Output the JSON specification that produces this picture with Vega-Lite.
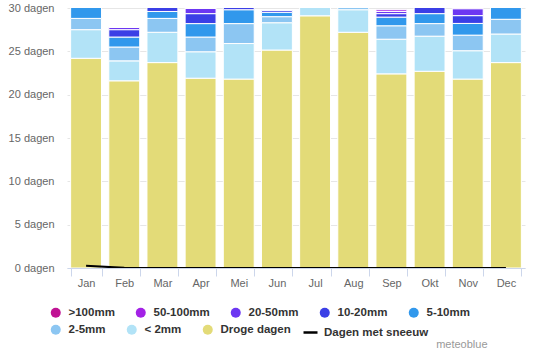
{
  "$schema": "https://vega.github.io/schema/vega-lite/v6.json",
  "width": 458,
  "height": 260,
  "autosize": {"type": "none"},
  "padding": {"left": 67, "top": 8, "right": 10, "bottom": 88},
  "background": "white",
  "config": {
    "view": {"stroke": null},
    "font": "Liberation Sans",
    "axisX": {
      "titleColor": "#999999",
      "titleFont": "Liberation Sans",
      "titleFontSize": 11,
      "titleFontWeight": "normal",
      "titleAlign": "right",
      "titleBaseline": "alphabetic",
      "titleX": 420,
      "titleY": 79
    },
    "legend": {
      "orient": "none",
      "direction": "horizontal",
      "gridAlign": "none",
      "padding": 0,
      "labelFont": "Liberation Sans",
      "labelFontSize": 11.5,
      "labelFontWeight": "bold",
      "labelColor": "#333333",
      "labelOffset": 7,
      "columnPadding": 20,
      "symbolType": "circle",
      "symbolSize": 100,
      "symbolStrokeWidth": 0,
      "title": null
    }
  },
  "datasets": {
    "precip": [
      {"month": "Jan", "cat": "Droge dagen", "rank": 1, "days": 24.2},
      {"month": "Jan", "cat": "< 2mm", "rank": 2, "days": 3.3},
      {"month": "Jan", "cat": "2-5mm", "rank": 3, "days": 1.3},
      {"month": "Jan", "cat": "5-10mm", "rank": 4, "days": 1.7},
      {"month": "Jan", "cat": "10-20mm", "rank": 5, "days": 0.4},
      {"month": "Jan", "cat": "20-50mm", "rank": 6, "days": 0.1},
      {"month": "Feb", "cat": "Droge dagen", "rank": 1, "days": 21.6},
      {"month": "Feb", "cat": "< 2mm", "rank": 2, "days": 2.3},
      {"month": "Feb", "cat": "2-5mm", "rank": 3, "days": 1.6},
      {"month": "Feb", "cat": "5-10mm", "rank": 4, "days": 1.15},
      {"month": "Feb", "cat": "10-20mm", "rank": 5, "days": 0.85},
      {"month": "Feb", "cat": "20-50mm", "rank": 6, "days": 0.25},
      {"month": "Mar", "cat": "Droge dagen", "rank": 1, "days": 23.7},
      {"month": "Mar", "cat": "< 2mm", "rank": 2, "days": 3.5},
      {"month": "Mar", "cat": "2-5mm", "rank": 3, "days": 1.6},
      {"month": "Mar", "cat": "5-10mm", "rank": 4, "days": 0.8},
      {"month": "Mar", "cat": "10-20mm", "rank": 5, "days": 0.9},
      {"month": "Mar", "cat": "20-50mm", "rank": 6, "days": 0.4},
      {"month": "Mar", "cat": "50-100mm", "rank": 7, "days": 0.1},
      {"month": "Apr", "cat": "Droge dagen", "rank": 1, "days": 21.9},
      {"month": "Apr", "cat": "< 2mm", "rank": 2, "days": 3.05},
      {"month": "Apr", "cat": "2-5mm", "rank": 3, "days": 1.7},
      {"month": "Apr", "cat": "5-10mm", "rank": 4, "days": 1.55},
      {"month": "Apr", "cat": "10-20mm", "rank": 5, "days": 1.15},
      {"month": "Apr", "cat": "20-50mm", "rank": 6, "days": 0.6},
      {"month": "Apr", "cat": "50-100mm", "rank": 7, "days": 0.05},
      {"month": "Mei", "cat": "Droge dagen", "rank": 1, "days": 21.8},
      {"month": "Mei", "cat": "< 2mm", "rank": 2, "days": 4.1},
      {"month": "Mei", "cat": "2-5mm", "rank": 3, "days": 2.3},
      {"month": "Mei", "cat": "5-10mm", "rank": 4, "days": 1.6},
      {"month": "Mei", "cat": "10-20mm", "rank": 5, "days": 0.8},
      {"month": "Mei", "cat": "20-50mm", "rank": 6, "days": 0.3},
      {"month": "Mei", "cat": "50-100mm", "rank": 7, "days": 0.1},
      {"month": "Jun", "cat": "Droge dagen", "rank": 1, "days": 25.15},
      {"month": "Jun", "cat": "< 2mm", "rank": 2, "days": 3.15},
      {"month": "Jun", "cat": "2-5mm", "rank": 3, "days": 0.7},
      {"month": "Jun", "cat": "5-10mm", "rank": 4, "days": 0.5},
      {"month": "Jun", "cat": "10-20mm", "rank": 5, "days": 0.2},
      {"month": "Jul", "cat": "Droge dagen", "rank": 1, "days": 29.1},
      {"month": "Jul", "cat": "< 2mm", "rank": 2, "days": 1.6},
      {"month": "Jul", "cat": "2-5mm", "rank": 3, "days": 0.3},
      {"month": "Aug", "cat": "Droge dagen", "rank": 1, "days": 27.2},
      {"month": "Aug", "cat": "< 2mm", "rank": 2, "days": 2.6},
      {"month": "Aug", "cat": "2-5mm", "rank": 3, "days": 0.8},
      {"month": "Aug", "cat": "5-10mm", "rank": 4, "days": 0.4},
      {"month": "Sep", "cat": "Droge dagen", "rank": 1, "days": 22.4},
      {"month": "Sep", "cat": "< 2mm", "rank": 2, "days": 4.0},
      {"month": "Sep", "cat": "2-5mm", "rank": 3, "days": 1.55},
      {"month": "Sep", "cat": "5-10mm", "rank": 4, "days": 1.0},
      {"month": "Sep", "cat": "10-20mm", "rank": 5, "days": 0.4},
      {"month": "Sep", "cat": "20-50mm", "rank": 6, "days": 0.25},
      {"month": "Sep", "cat": "50-100mm", "rank": 7, "days": 0.2},
      {"month": "Okt", "cat": "Droge dagen", "rank": 1, "days": 22.7},
      {"month": "Okt", "cat": "< 2mm", "rank": 2, "days": 4.05},
      {"month": "Okt", "cat": "2-5mm", "rank": 3, "days": 1.45},
      {"month": "Okt", "cat": "5-10mm", "rank": 4, "days": 1.15},
      {"month": "Okt", "cat": "10-20mm", "rank": 5, "days": 1.0},
      {"month": "Okt", "cat": "20-50mm", "rank": 6, "days": 0.5},
      {"month": "Okt", "cat": "50-100mm", "rank": 7, "days": 0.15},
      {"month": "Nov", "cat": "Droge dagen", "rank": 1, "days": 21.8},
      {"month": "Nov", "cat": "< 2mm", "rank": 2, "days": 3.27},
      {"month": "Nov", "cat": "2-5mm", "rank": 3, "days": 1.8},
      {"month": "Nov", "cat": "5-10mm", "rank": 4, "days": 1.35},
      {"month": "Nov", "cat": "10-20mm", "rank": 5, "days": 0.9},
      {"month": "Nov", "cat": "20-50mm", "rank": 6, "days": 0.8},
      {"month": "Nov", "cat": "50-100mm", "rank": 7, "days": 0.08},
      {"month": "Dec", "cat": "Droge dagen", "rank": 1, "days": 23.7},
      {"month": "Dec", "cat": "< 2mm", "rank": 2, "days": 3.3},
      {"month": "Dec", "cat": "2-5mm", "rank": 3, "days": 1.7},
      {"month": "Dec", "cat": "5-10mm", "rank": 4, "days": 1.6},
      {"month": "Dec", "cat": "10-20mm", "rank": 5, "days": 0.5},
      {"month": "Dec", "cat": "20-50mm", "rank": 6, "days": 0.2}
    ],
    "snow": [
      {"month": "Jan", "series": "Dagen met sneeuw", "days": 0.25},
      {"month": "Feb", "series": "Dagen met sneeuw", "days": 0.02},
      {"month": "Mar", "series": "Dagen met sneeuw", "days": 0},
      {"month": "Apr", "series": "Dagen met sneeuw", "days": 0},
      {"month": "Mei", "series": "Dagen met sneeuw", "days": 0},
      {"month": "Jun", "series": "Dagen met sneeuw", "days": 0},
      {"month": "Jul", "series": "Dagen met sneeuw", "days": 0},
      {"month": "Aug", "series": "Dagen met sneeuw", "days": 0},
      {"month": "Sep", "series": "Dagen met sneeuw", "days": 0},
      {"month": "Okt", "series": "Dagen met sneeuw", "days": 0},
      {"month": "Nov", "series": "Dagen met sneeuw", "days": 0},
      {"month": "Dec", "series": "Dagen met sneeuw", "days": 0}
    ]
  },
  "layer": [
    {
      "data": {"name": "precip"},
      "transform": [
        {"stack": "days", "groupby": ["month"], "sort": [{"field": "rank", "order": "ascending"}], "as": ["y0", "y1"]},
        {"filter": {"field": "cat", "oneOf": ["2-5mm", "< 2mm", "Droge dagen"]}}
      ],
      "mark": {"type": "bar", "stroke": "white", "strokeWidth": 1, "clip": true},
      "encoding": {
        "x": {"field": "month", "type": "nominal", "sort": ["Jan","Feb","Mar","Apr","Mei","Jun","Jul","Aug","Sep","Okt","Nov","Dec"],
              "scale": {"paddingInner": 0.19, "paddingOuter": 0.095},
              "axis": {"title": "meteoblue", "labelAngle": 0, "labelColor": "#666666", "labelFontSize": 11, "domainColor": "#ccd6eb", "tickColor": "#ccd6eb", "tickBand": "extent", "tickSize": 8, "labelPadding": 1, "grid": false}},
        "y": {"field": "y1", "type": "quantitative", "scale": {"domain": [0, 30], "nice": false},
              "axis": {"title": null, "values": [0,5,10,15,20,25,30], "labelExpr": "datum.value + ' dagen'", "domain": false, "ticks": false, "labelColor": "#666666", "labelFontSize": 11, "labelPadding": 13, "gridColor": "#e6e6e6"}},
        "y2": {"field": "y0"},
        "color": {"field": "cat", "type": "nominal",
                  "scale": {"domain": ["2-5mm", "< 2mm", "Droge dagen"], "range": ["#8cc6f2", "#b2e3f7", "#e3db78"]},
                  "legend": {"legendX": -17, "legendY": 316}}
      }
    },
    {
      "data": {"name": "precip"},
      "transform": [
        {"stack": "days", "groupby": ["month"], "sort": [{"field": "rank", "order": "ascending"}], "as": ["y0", "y1"]},
        {"filter": {"field": "cat", "oneOf": [">100mm", "50-100mm", "20-50mm", "10-20mm", "5-10mm"]}}
      ],
      "mark": {"type": "bar", "stroke": "white", "strokeWidth": 1, "clip": true},
      "encoding": {
        "x": {"field": "month", "type": "nominal", "sort": ["Jan","Feb","Mar","Apr","Mei","Jun","Jul","Aug","Sep","Okt","Nov","Dec"],
              "scale": {"paddingInner": 0.19, "paddingOuter": 0.095},
              "axis": {"title": "meteoblue", "labelAngle": 0, "labelColor": "#666666", "labelFontSize": 11, "domainColor": "#ccd6eb", "tickColor": "#ccd6eb", "tickBand": "extent", "tickSize": 8, "labelPadding": 1, "grid": false}},
        "y": {"field": "y1", "type": "quantitative", "scale": {"domain": [0, 30], "nice": false},
              "axis": {"title": null, "values": [0,5,10,15,20,25,30], "labelExpr": "datum.value + ' dagen'", "domain": false, "ticks": false, "labelColor": "#666666", "labelFontSize": 11, "labelPadding": 13, "gridColor": "#e6e6e6"}},
        "y2": {"field": "y0"},
        "color": {"field": "cat", "type": "nominal",
                  "scale": {"domain": [">100mm", "50-100mm", "20-50mm", "10-20mm", "5-10mm"], "range": ["#c01394", "#a322e6", "#6c37f2", "#3b3fe6", "#3198ec"]},
                  "legend": {"legendX": -17, "legendY": 299}}
      }
    },
    {
      "data": {"name": "snow"},
      "mark": {"type": "line", "strokeWidth": 2, "clip": true},
      "encoding": {
        "x": {"field": "month", "type": "nominal", "sort": ["Jan","Feb","Mar","Apr","Mei","Jun","Jul","Aug","Sep","Okt","Nov","Dec"],
              "scale": {"paddingInner": 0.19, "paddingOuter": 0.095},
              "axis": {"title": "meteoblue", "labelAngle": 0, "labelColor": "#666666", "labelFontSize": 11, "domainColor": "#ccd6eb", "tickColor": "#ccd6eb", "tickBand": "extent", "tickSize": 8, "labelPadding": 1, "grid": false}},
        "y": {"field": "days", "type": "quantitative", "scale": {"domain": [0, 30], "nice": false},
              "axis": {"title": null, "values": [0,5,10,15,20,25,30], "labelExpr": "datum.value + ' dagen'", "domain": false, "ticks": false, "labelColor": "#666666", "labelFontSize": 11, "labelPadding": 13, "gridColor": "#e6e6e6"}},
        "color": {"field": "series", "type": "nominal",
                  "scale": {"domain": ["Dagen met sneeuw"], "range": ["#000000"]},
                  "legend": {"legendX": 235, "legendY": 316, "symbolType": "stroke", "symbolStrokeWidth": 2.5, "symbolSize": 196, "labelOffset": 5}}
      }
    }
  ],
  "resolve": {"scale": {"color": "independent"}}
}
